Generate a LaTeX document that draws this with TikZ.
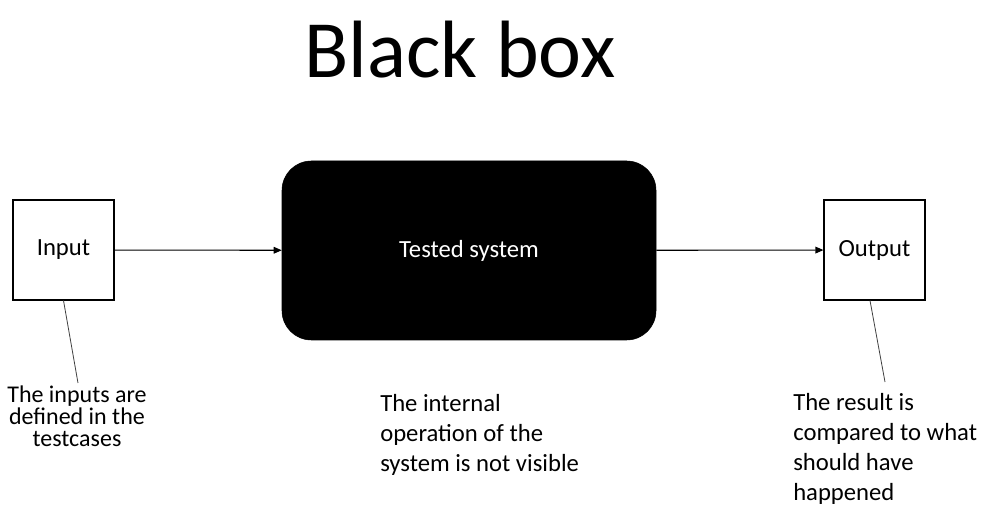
\documentclass[tikz,border=0pt]{standalone}
\usepackage{fontspec}
\setmainfont{Carlito}
\usetikzlibrary{arrows.meta,calc}
\tikzset{
  plainbox/.style={draw,line width=0.8pt,minimum width=75.75pt,minimum height=75pt,inner sep=0pt,font=\fontsize{18.5}{20}\selectfont},
  blackbox/.style={draw,fill=black,rounded corners=22pt,minimum width=280.5pt,minimum height=134.25pt,text=white,font=\fontsize{18.5}{20}\selectfont},
  note/.style={inner sep=0pt,font=\fontsize{18.5}{22.5}\selectfont,align=left},
  flow/.style={line width=0.8pt,-{Triangle[length=6pt,width=5pt]}},
  pin/.style={line width=0.6pt,draw=black!75}
}
\begin{document}
\begin{tikzpicture}[x=0.75pt,y=-0.75pt]
  \useasboundingbox (0,0) rectangle (984,505);
  \node[anchor=base,font=\fontsize{61}{61}\selectfont] (title) at (460,78) {Black box};
  \node[plainbox] (input) at (63.5,250) {Input};
  \node[blackbox] (system) at (469,250.5) {Tested system};
  \node[plainbox] (output) at (874.5,250) {Output};
  \node[note,align=center,anchor=north,font=\fontsize{18}{16.5}\selectfont] (inputnote) at (77,386)
    {The inputs are\\defined in the\\testcases};
  \node[note,anchor=north west] (systemnote) at (380,394)
    {The internal\\operation of the\\system is not visible};
  \node[note,anchor=north west] (outputnote) at (793,393)
    {The result is\\compared to what\\should have\\happened};
  % connectors
  \draw[flow] (input) -- (system);
  \draw[flow] (system) -- (output);
  \draw[pin] (input.south) -- ($(inputnote.north)+(1,-3)$);
  \draw[pin] ($(output.south)+(-4.5,0)$) -- ($(outputnote.north west)+(92,-11)$);
\end{tikzpicture}
\end{document}
